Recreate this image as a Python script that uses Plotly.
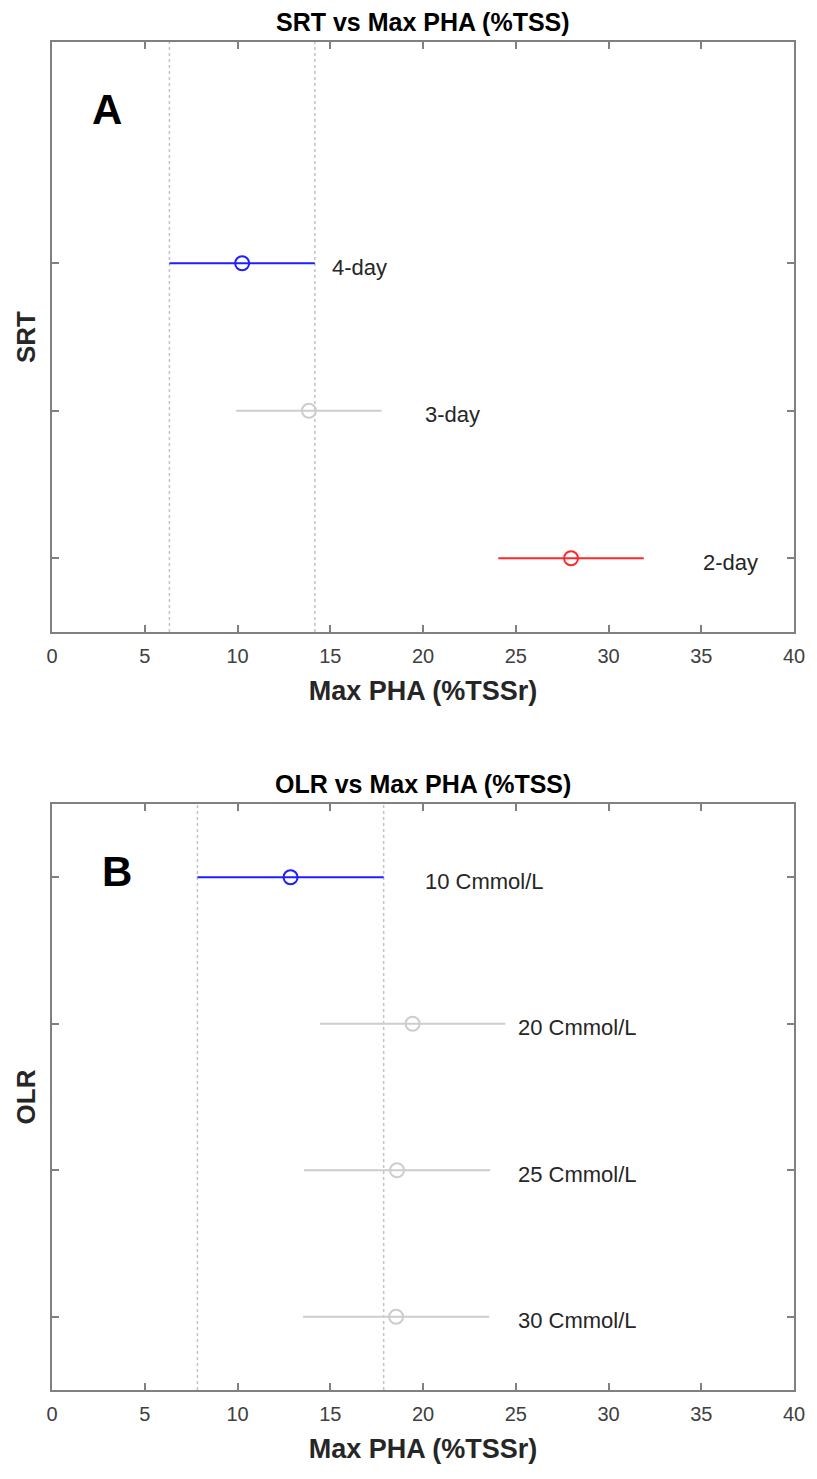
import plotly.graph_objects as go

# Panel A: solids retention time groups (bottom to top)
srt_groups = ["2-day", "3-day", "4-day"]
srt_mean = [27.98, 13.85, 10.25]
srt_halfwidth = [3.92, 3.92, 3.92]
srt_colors = ["rgb(255,40,40)", "rgb(205,205,205)", "rgb(30,30,255)"]
srt_label_x = [35, 20, 15]
srt_selected = "4-day"

# Panel B: organic loading rate groups (bottom to top)
olr_groups = ["30 Cmmol/L", "25 Cmmol/L", "20 Cmmol/L", "10 Cmmol/L"]
olr_mean = [18.55, 18.6, 19.44, 12.86]
olr_halfwidth = [5.02, 5.02, 5.0, 5.02]
olr_colors = ["rgb(205,205,205)", "rgb(205,205,205)", "rgb(205,205,205)", "rgb(30,30,255)"]
olr_label_x = [25, 25, 25, 20]
olr_selected = "10 Cmmol/L"

x_ticks = [0, 5, 10, 15, 20, 25, 30, 35, 40]

FONT = "Liberation Sans, Arial, sans-serif"
AXIS_GRAY = "rgb(128,128,128)"
TICK_TEXT = "rgb(64,64,64)"

W, H = 817, 1479
M_L, M_R, M_T, M_B = 52, 19, 42, 89
plot_h = H - M_T - M_B


def py_to_paper(py):
    return (H - M_B - py) / plot_h


fig = go.Figure()


def add_panel(groups, means, halfw, colors, label_x, selected, xa, ya):
    for g, m, hw, c in zip(groups, means, halfw, colors):
        fig.add_trace(go.Scatter(
            x=[m], y=[g], mode="markers",
            marker=dict(symbol="circle-open", size=14, color=c, line=dict(width=2, color=c)),
            error_x=dict(type="data", array=[hw], symmetric=True, color=c,
                         thickness=2, width=0),
            xaxis=xa, yaxis=ya, showlegend=False, cliponaxis=False,
        ))
    for g, lx in zip(groups, label_x):
        fig.add_annotation(x=lx, y=g, text=g, xref=xa, yref=ya, showarrow=False,
                           xanchor="left", yanchor="middle", yshift=-4,
                           font=dict(family=FONT, size=22, color="rgb(38,38,38)"))
    i = groups.index(selected)
    for xv in (means[i] - halfw[i], means[i] + halfw[i]):
        fig.add_shape(type="line", x0=xv, x1=xv, y0=0, y1=1,
                      xref=xa, yref=ya + " domain",
                      line=dict(color="rgb(195,195,195)", width=1.5, dash="dot"),
                      layer="below")


add_panel(srt_groups, srt_mean, srt_halfwidth, srt_colors, srt_label_x, srt_selected, "x", "y")
add_panel(olr_groups, olr_mean, olr_halfwidth, olr_colors, olr_label_x, olr_selected, "x2", "y2")


def x_axis(domain_anchor, title):
    return dict(
        range=[0, 40], tickvals=x_ticks, ticks="inside", ticklen=7, tickwidth=1.5,
        tickcolor=AXIS_GRAY, showline=True, linecolor=AXIS_GRAY, linewidth=2,
        mirror="ticks", showgrid=False, zeroline=False, anchor=domain_anchor,
        tickfont=dict(family=FONT, size=20, color=TICK_TEXT),
        ticklabelstandoff=5,
        title=dict(text=f"<b>{title}</b>", standoff=15,
                   font=dict(family=FONT, size=27, color="rgb(38,38,38)")),
    )


def y_axis(groups, domain, anchor, title):
    return dict(
        type="category", categoryorder="array", categoryarray=groups,
        range=[-0.5, 3.5], domain=domain, anchor=anchor,
        ticks="inside", ticklen=7, tickwidth=1.5, tickcolor=AXIS_GRAY,
        showticklabels=False, showline=True, linecolor=AXIS_GRAY, linewidth=2,
        mirror="ticks", showgrid=False, zeroline=False,
        title=dict(text=f"<b>{title}</b>", standoff=7,
                   font=dict(family=FONT, size=26, color="rgb(38,38,38)")),
    )


dom_a = [py_to_paper(632), 1.0]
dom_b = [0.0, py_to_paper(804)]

fig.update_layout(
    width=W, height=H,
    margin=dict(l=M_L, r=M_R, t=M_T, b=M_B),
    paper_bgcolor="white", plot_bgcolor="white",
    xaxis=x_axis("y", "Max PHA (%TSSr)"),
    yaxis=y_axis(srt_groups, dom_a, "x", "SRT"),
    xaxis2=x_axis("y2", "Max PHA (%TSSr)"),
    yaxis2=y_axis(olr_groups, dom_b, "x2", "OLR"),
)

# Panel titles and panel letters
for txt, py in (("SRT vs Max PHA (%TSS)", 22), ("OLR vs Max PHA (%TSS)", 784)):
    fig.add_annotation(x=0.5, y=py_to_paper(py), xref="paper", yref="paper",
                       text=f"<b>{txt}</b>", showarrow=False, xanchor="center", yanchor="middle",
                       font=dict(family=FONT, size=25, color="black"))

for letter, xa, ya, lx, ly in (("A", "x", "y", 0.074, 0.886), ("B", "x2", "y2", 0.088, 0.884)):
    fig.add_annotation(x=lx, y=ly, xref=xa + " domain", yref=ya + " domain",
                       text=f"<b>{letter}</b>", showarrow=False, xanchor="center", yanchor="middle",
                       font=dict(family=FONT, size=42, color="black"))

fig.write_html("out.html")
